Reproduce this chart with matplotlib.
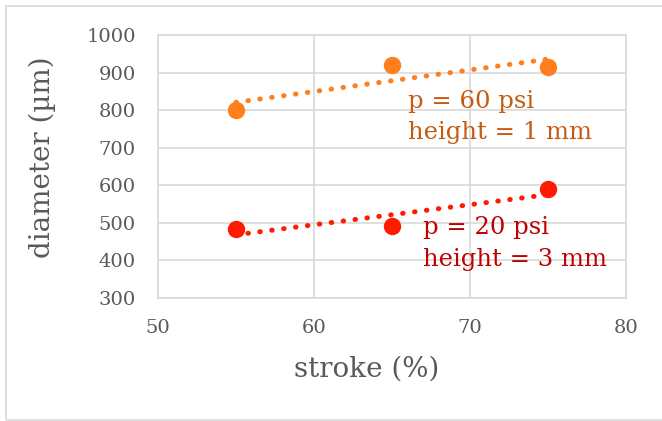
import numpy as np
import matplotlib.pyplot as plt
from matplotlib.patches import Rectangle

# data
stroke = [55, 65, 75]
diam_60psi = [800, 920, 915]
diam_20psi = [483, 492, 590]

x_ticks = [50, 60, 70, 80]
y_ticks = [300, 400, 500, 600, 700, 800, 900, 1000]

orange = '#FF7F1E'
red = '#FF1A00'
orange_txt = '#C55A11'
red_txt = '#C00000'
grid_c = '#D9D9D9'
txt_c = '#595959'

plt.rcParams['font.family'] = ['DejaVu Serif']

fig = plt.figure(figsize=(6.62, 4.21), dpi=100)
ax = fig.add_axes([158 / 662, 123 / 421, 468 / 662, 263 / 421])

# outer chart border
fig.patches.append(Rectangle((6 / 662, 1 / 421), 660 / 662, 414 / 421,
                             transform=fig.transFigure, fill=False,
                             edgecolor=grid_c, linewidth=1.2))

for y, c in [(diam_60psi, orange), (diam_20psi, red)]:
    # linear trendline (as in Excel)
    k, b = np.polyfit(stroke, y, 1)
    xs = np.array([stroke[0], stroke[-1]])
    ax.plot(xs, k * xs + b, linestyle=(0, (0.1, 2.3)), color=c,
            linewidth=3.6, dash_capstyle='round', zorder=3)
    ax.plot(stroke, y, 'o', color=c, markersize=11.5, zorder=4)

ax.text(66.0, 781, 'p = 60 psi\nheight = 1 mm', color=orange_txt,
        fontsize=17.5, va='center', ha='left', linespacing=1.45)
ax.text(67.0, 445, 'p = 20 psi\nheight = 3 mm', color=red_txt,
        fontsize=17.5, va='center', ha='left', linespacing=1.45)

ax.set_xlim(50, 80)
ax.set_ylim(300, 1000)
ax.set_xticks(x_ticks)
ax.set_yticks(y_ticks)
ax.grid(True, color=grid_c, linewidth=1.2)
ax.set_axisbelow(True)
for s in ax.spines.values():
    s.set_color(grid_c)
    s.set_linewidth(1.2)
ax.tick_params(length=0, colors=txt_c, labelsize=14)
ax.tick_params(axis='y', pad=16)
ax.tick_params(axis='x', pad=15)

ax.set_xlabel('stroke (%)', fontsize=20, color=txt_c, labelpad=8)
ax.xaxis.set_label_coords(0.445, -0.22)
ax.set_ylabel('diameter (µm)', fontsize=20, color=txt_c)
ax.yaxis.set_label_coords(-0.219, 0.535)

fig.savefig('out.png', dpi=100)
